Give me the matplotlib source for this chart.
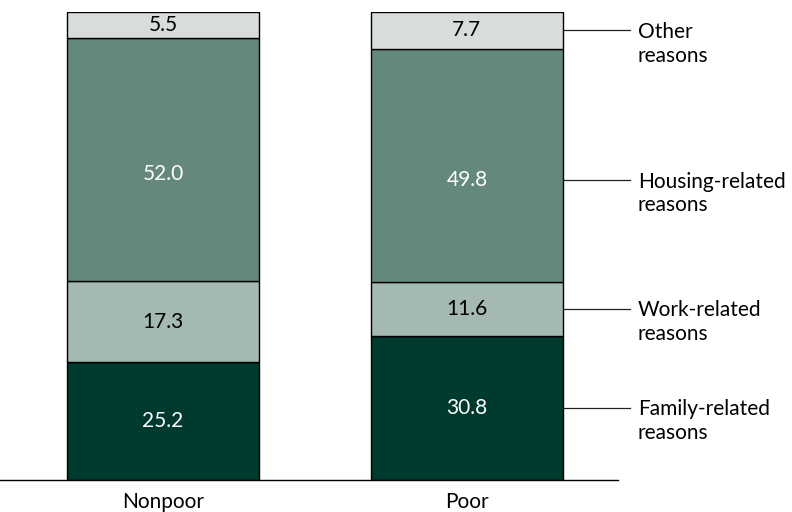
import numpy as np
import matplotlib.pyplot as plt

plt.rcParams['font.family'] = ['Lato', 'DejaVu Sans']

groups = ['Nonpoor', 'Poor']
reasons = ['Family-related\nreasons', 'Work-related\nreasons',
           'Housing-related\nreasons', 'Other\nreasons']
family = [25.2, 30.8]
work = [17.3, 11.6]
housing = [52.0, 49.8]
other = [5.5, 7.7]

colors = ['#003a2f', '#a4b9b0', '#64887c', '#d8dddb']
text_colors = ['white', 'black', 'white', 'black']
# housing labels sit a bit below the middle of the segment in the original
label_shift = [0, 0, -3.2, 0]

fig = plt.figure(figsize=(7.92, 5.12), dpi=100)
ax = fig.add_axes([0, 32 / 512, 618 / 792, 468 / 512])

x = np.arange(len(groups))
width = 0.632
bottom = np.zeros(len(groups))
series = [family, work, housing, other]
for i, vals in enumerate(series):
    vals = np.array(vals)
    ax.bar(x, vals, width, bottom=bottom, color=colors[i],
           edgecolor='black', linewidth=1.0)
    for j in range(len(groups)):
        ax.text(x[j], bottom[j] + vals[j] / 2 + label_shift[i], f'{vals[j]:.1f}',
                ha='center', va='center', fontsize=15, color=text_colors[i])
    # leader line and two-line label on the right of the Poor bar
    ly = bottom[-1] + vals[-1] / 2 + label_shift[i]
    ax.plot([x[-1] + width / 2, 1.535], [ly, ly], color='#222222',
            linewidth=0.9, clip_on=False)
    for k, line in enumerate(reasons[i].split('\n')):
        ax.annotate(line, xy=(1.562, ly), xytext=(0, -5.4 - 17.0 * k),
                    textcoords='offset points', ha='left', va='baseline',
                    fontsize=15, annotation_clip=False)
    bottom = bottom + vals

ax.set_xlim(-0.536, 1.497)
ax.set_ylim(0, 100)
ax.set_xticks(x)
ax.set_xticklabels(groups, fontsize=15)
ax.tick_params(axis='x', length=0, pad=9)
ax.set_yticks([])
for side in ['top', 'right', 'left']:
    ax.spines[side].set_visible(False)
ax.spines['bottom'].set_linewidth(1.0)

plt.savefig('out.png', dpi=100)
